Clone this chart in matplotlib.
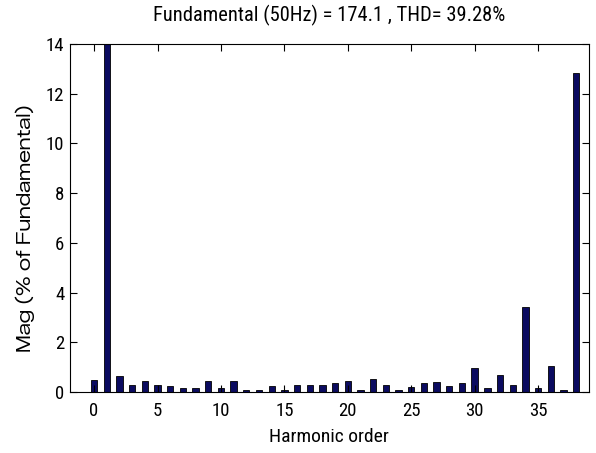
import matplotlib.pyplot as plt
import numpy as np

# Harmonic spectrum, magnitude in % of fundamental
harmonic = np.arange(0, 39)
mag = [0.50, 100.0, 0.63, 0.29, 0.43, 0.29, 0.23, 0.15, 0.16, 0.43,
       0.15, 0.43, 0.08, 0.07, 0.23, 0.09, 0.29, 0.29, 0.29, 0.36,
       0.46, 0.09, 0.51, 0.29, 0.09, 0.22, 0.36, 0.42, 0.23, 0.36,
       0.97, 0.15, 0.70, 0.28, 3.42, 0.16, 1.03, 0.08, 12.85]

title_txt = 'Fundamental (50Hz) = 174.1 , THD= 39.28%'
xticks = [0, 5, 10, 15, 20, 25, 30, 35]
yticks = [0, 2, 4, 6, 8, 10, 12, 14]

narrow = ['Roboto Condensed', 'Liberation Sans', 'DejaVu Sans']
wide = ['Zalando Sans Expanded', 'Encode Sans Expanded', 'DejaVu Sans']

fig = plt.figure(figsize=(5.96, 4.53), dpi=100)
ax = fig.add_axes([0.1174, 0.1347, 0.8706, 0.7682])

ax.bar(harmonic, mag, width=0.5, color='#0b0b60', edgecolor='black', linewidth=0.6)

ax.set_xlim(-1.9, 39.0)
ax.set_ylim(0, 14)
ax.set_xticks(xticks)
ax.set_yticks(yticks)
ax.tick_params(direction='in', top=True, right=True, length=5, width=0.8,
               labelsize=13.5)
ax.tick_params(axis='x', pad=7)
ax.tick_params(axis='y', pad=4)
for lbl in ax.get_xticklabels() + ax.get_yticklabels():
    lbl.set_family(narrow)

for s in ax.spines.values():
    s.set_linewidth(0.8)

ax.set_title(title_txt, family=narrow, fontsize=14.8, pad=16)
ax.set_xlabel('Harmonic order', family=narrow, fontsize=14, labelpad=6)
ax.set_ylabel('Mag (% of Fundamental)', family=wide, fontsize=13)
ax.yaxis.set_label_coords(-0.068, 0.47)

fig.savefig('out.png', dpi=100)
